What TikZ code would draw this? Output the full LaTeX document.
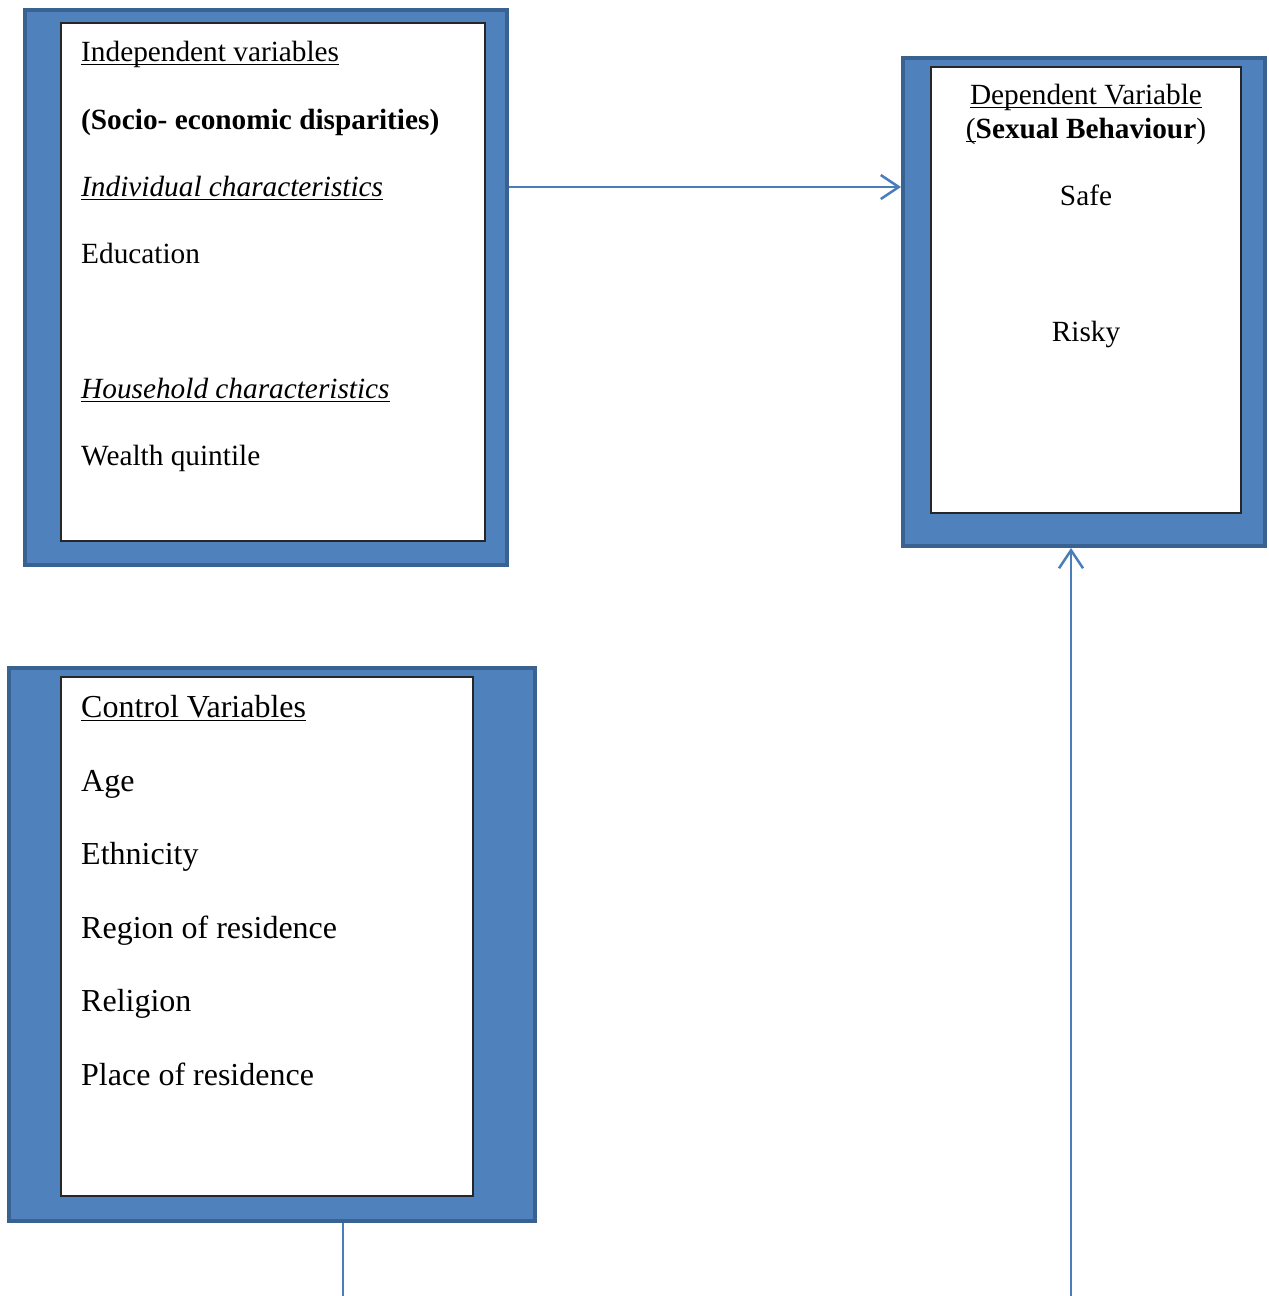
\documentclass[tikz,border=0pt]{standalone}
\usepackage{fontspec}
\setmainfont{Liberation Serif}
\usetikzlibrary{arrows.meta}
\newlength\myullen
\newcommand\myul[1]{\settowidth{\myullen}{#1}\rlap{#1}\rule[-4.2pt]{\myullen}{1.6pt}}
\definecolor{boxfill}{HTML}{4F81BD}
\definecolor{boxline}{HTML}{3A6291}
\definecolor{conn}{HTML}{4A7EBB}
\tikzset{
  outerbox/.style={draw=boxline, line width=4pt, fill=boxfill, rectangle, inner sep=0pt},
  innerbox/.style={draw=black!85, line width=1.3pt, fill=white, rectangle, inner sep=0pt},
  txt/.style={anchor=base west, inner sep=0pt, font=\fontsize{29.3}{35}\selectfont},
  ctxt/.style={anchor=base, inner sep=0pt, font=\fontsize{29.3}{35}\selectfont},
  btxt/.style={anchor=base west, inner sep=0pt, font=\fontsize{32}{38}\selectfont},
  conline/.style={draw=conn, line width=2.5pt},
  conarrow/.style={conline, -{Straight Barb[length=18pt,width=24pt,line width=2.5pt]}}
}
\begin{document}
\begin{tikzpicture}[x=1pt,y=-1pt]
\useasboundingbox (0,0) rectangle (1269,1296);
% boxes
\node[outerbox, minimum width=482pt, minimum height=555pt] (indep) at (266,287.5) {};
\node[innerbox, minimum width=424pt, minimum height=518pt] (indepin) at (273,282) {};
\node[outerbox, minimum width=362pt, minimum height=488pt] (dep) at (1084,302) {};
\node[innerbox, minimum width=310pt, minimum height=446pt] (depin) at (1086,290) {};
\node[outerbox, minimum width=526pt, minimum height=553pt] (ctrl) at (272,944.5) {};
\node[innerbox, minimum width=412pt, minimum height=519pt] (ctrlin) at (267,936.5) {};
% independent texts
\node[txt] (t1) at (81,61) {\myul{Independent variables}};
\node[txt] (t2) at (81,129) {\textbf{(Socio- economic disparities)}};
\node[txt] (t3) at (81,196) {\myul{\textit{Individual characteristics}}};
\node[txt] (t4) at (81,263) {Education};
\node[txt] (t5) at (81,398) {\myul{\textit{Household characteristics}}};
\node[txt] (t6) at (81,465) {Wealth quintile};
% dependent texts
\node[ctxt] (d1) at (1086,104) {\myul{Dependent Variable}};
\node[ctxt] (d2) at (1086,138) {\myul{(}\textbf{Sexual Behaviour})};
\node[ctxt] (d3) at (1086,205) {Safe};
\node[ctxt] (d4) at (1086,341) {Risky};
% control texts
\node[btxt] (c1) at (81,717) {\myul{Control Variables}};
\node[btxt] (c2) at (81,791) {Age};
\node[btxt] (c3) at (81,864) {Ethnicity};
\node[btxt] (c4) at (81,938) {Region of residence};
\node[btxt] (c5) at (81,1011) {Religion};
\node[btxt] (c6) at (81,1085) {Place of residence};
% connectors
\coordinate (a1) at (0,187);
\coordinate (b2) at (1071,1296);
\coordinate (b3) at (343,1296);
\draw[conarrow] (indep.east |- a1) -- (dep.west |- a1);
\draw[conarrow] (b2) -- (b2 |- dep.south);
\draw[conline] (ctrl.south -| b3) -- (b3);
\end{tikzpicture}
\end{document}
